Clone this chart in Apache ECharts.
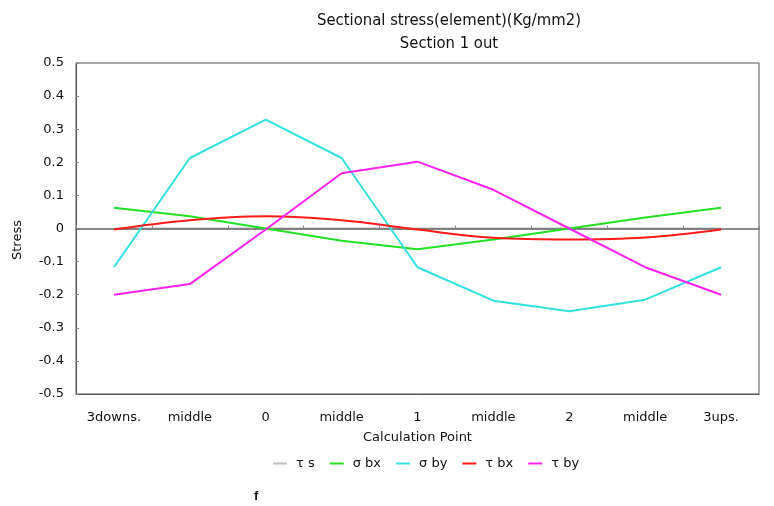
<!DOCTYPE html>
<html>
<head>
<meta charset="utf-8">
<script src="https://cdn.jsdelivr.net/npm/echarts@6/dist/echarts.min.js"></script>
<style>
  html, body { margin: 0; padding: 0; background: #fff; }
  #chart { width: 774px; height: 506px; }
</style>
</head>
<body>
<div id="chart"></div>
<script>
// Calculation points along the section
const categories = ['3downs.', 'middle', '0', 'middle', '1', 'middle', '2', 'middle', '3ups.'];

// Stress values (Kg/mm2) per component
const tauS   = [0, 0, 0, 0, 0, 0, 0, 0, 0];
const sigBx  = [0.063, 0.037, 0.000, -0.037, -0.063, -0.033, 0.000, 0.033, 0.063];
const sigBy  = [-0.117, 0.213, 0.329, 0.213, -0.117, -0.218, -0.250, -0.215, -0.117];
const tauBx  = [-0.003, 0.025, 0.037, 0.025, -0.003, -0.028, -0.033, -0.027, -0.003];
const tauBy  = [-0.200, -0.168, -0.003, 0.167, 0.202, 0.117, 0.000, -0.117, -0.200];

const yTicks = [-0.5, 0.5, 0.1];

const titleFont = '"DejaVu Sans Condensed", "Liberation Sans Narrow", sans-serif';
const labelFont = '"DejaVu Sans", sans-serif';
const bodyFont = '"Liberation Sans", Arial, sans-serif';

const chart = echarts.init(document.getElementById('chart'), null, { renderer: 'canvas' });

function lineSeries(name, data, color, smooth, z) {
  return {
    name: name,
    type: 'line',
    data: data,
    smooth: smooth ? 0.4 : false,
    symbol: 'none',
    lineStyle: { color: color, width: 2 },
    itemStyle: { color: color },
    z: z
  };
}

chart.setOption({
  animation: false,
  title: {
    text: 'Sectional stress(element)(Kg/mm2)',
    subtext: 'Section 1 out',
    left: 444,
    textAlign: 'center',
    top: 7,
    itemGap: 6,
    textStyle: { fontFamily: titleFont, fontSize: 16.5, fontWeight: 'normal', color: '#111' },
    subtextStyle: { fontFamily: titleFont, fontSize: 16.5, color: '#111' }
  },
  grid: {
    left: 76, right: 15, top: 63, bottom: 112,
    show: true, borderColor: '#555', borderWidth: 1, backgroundColor: 'transparent'
  },
  legend: {
    top: 452,
    left: 268,
    itemWidth: 14,
    itemHeight: 2,
    itemGap: 15,
    icon: 'rect',
    textStyle: { fontFamily: labelFont, fontSize: 13, color: '#111', padding: [0, 0, 0, 4] },
    data: ['τ s', 'σ bx', 'σ by', 'τ bx', 'τ by']
  },
  xAxis: [
    {
      type: 'category',
      data: categories,
      boundaryGap: true,
      position: 'bottom',
      axisLine: { onZero: false, show: true, lineStyle: { color: '#555' } },
      axisTick: { show: false },
      axisLabel: { margin: 17, fontFamily: labelFont, fontSize: 13, color: '#111' },
      name: 'Calculation Point',
      nameLocation: 'middle',
      nameGap: 37,
      nameTextStyle: { fontFamily: labelFont, fontSize: 13, color: '#111' }
    },
    {
      // zero line with its category-boundary ticks
      type: 'category',
      data: categories,
      boundaryGap: true,
      position: 'bottom',
      z: 2,
      axisLine: { onZero: true, show: true, lineStyle: { color: '#666', width: 1.5 } },
      axisTick: { show: true, inside: true, length: 3, lineStyle: { color: '#888' } },
      axisLabel: { show: false }
    }
  ],
  yAxis: {
    type: 'value',
    min: yTicks[0],
    max: yTicks[1],
    interval: yTicks[2],
    axisLine: { show: true, lineStyle: { color: '#555' } },
    axisTick: { show: true, inside: true, length: 3, lineStyle: { color: '#888' } },
    splitLine: { show: false },
    axisLabel: {
      margin: 12,
      fontFamily: labelFont, fontSize: 13, color: '#111',
      formatter: function (v) { return String(Math.round(v * 10) / 10); }
    }
  },
  series: [
    lineSeries('τ s', tauS, '#c0c0c0', false, 1),
    lineSeries('σ bx', sigBx, '#22e022', false, 3),
    lineSeries('σ by', sigBy, '#33e0e0', false, 3),
    lineSeries('τ bx', tauBx, '#ff1a1a', true, 3),
    lineSeries('τ by', tauBy, '#ff22ee', false, 3)
  ],
  graphic: [
    {
      type: 'text',
      x: 18,
      y: 240,
      rotation: Math.PI / 2,
      style: {
        text: 'Stress', fontFamily: labelFont, fontSize: 13, fill: '#111',
        align: 'center', verticalAlign: 'middle'
      }
    },
    {
      type: 'text',
      left: 254,
      top: 490,
      style: { text: 'f', fontFamily: bodyFont, fontSize: 13, fontWeight: 'bold', fill: '#111' }
    }
  ]
});
</script>
</body>
</html>
